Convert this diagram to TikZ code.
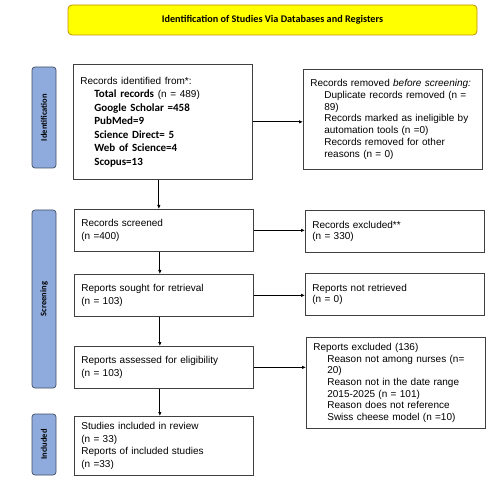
\documentclass[tikz,border=0pt]{standalone}
\usepackage{fontspec}
\setmainfont{Liberation Sans}
\newfontfamily\calibri{Carlito}
\usetikzlibrary{arrows.meta}
\definecolor{phasefill}{HTML}{8FAADC}
\definecolor{phaseline}{HTML}{3F4F66}
\definecolor{titlefill}{HTML}{FFFF00}
\definecolor{titleline}{HTML}{C09000}
\newcommand{\ind}{\hspace*{14pt}}
\newcommand{\bsrc}{\calibri\bfseries\fontsize{11}{13.5}\selectfont}

\begin{document}
\begin{tikzpicture}[
  x=1pt,y=-1pt,
  box/.style={draw=black!75,line width=0.7pt,anchor=north west,align=left,
    text width=165pt,inner xsep=7pt,inner ysep=0pt,font=\fontsize{10}{12.5}\selectfont},
  boxr/.style={box,font=\fontsize{10}{11.7}\selectfont},
  titlebox/.style={draw=titleline,fill=titlefill,line width=0.8pt,rounded corners=4pt,
    minimum width=409pt,minimum height=30pt,font=\calibri\bfseries\fontsize{10.2}{12}\selectfont},
  phasebox/.style={draw=phaseline,fill=phasefill,line width=0.7pt,rounded corners=3pt,
    rotate=90,minimum height=24pt,inner sep=0pt,font=\calibri\bfseries\fontsize{8.5}{9}\selectfont},
  flow/.style={draw=black,line width=0.8pt,-{Latex[length=4pt,width=3.5pt]}},
]
\useasboundingbox (0,0) rectangle (501,481);

% title and phases
\node[titlebox] (title) at (272.5,20) {Identification of Studies Via Databases and Registers};
\node[phasebox,minimum width=101pt] (phid) at (44,117.5) {Identification};
\node[phasebox,minimum width=178pt] (phscr) at (44,299) {Screening};
\node[phasebox,minimum width=61pt] (phinc) at (44,444.5) {Included};

% left column
\node[box,minimum height=115pt,font=\bsrc] (ident) at (73,64) {%
  {\normalfont\fontsize{10}{12}\selectfont Records identified from*:}\\
  \ind Total records {\normalfont\mdseries\fontsize{10}{12}\selectfont (n = 489)}\\
  \ind Google Scholar =458\\
  \ind PubMed=9\\
  \ind Science Direct= 5\\
  \ind Web of Science=4\\
  \ind Scopus=13};
\node[box,minimum height=42pt] (screened) at (74,209) {Records screened\\(n =400)};
\node[box,minimum height=42pt] (sought) at (74,274) {Reports sought for retrieval\\(n = 103)};
\node[box,minimum height=42pt] (assessed) at (74,346) {Reports assessed for eligibility\\(n = 103)};
\node[box,minimum height=59pt] (included) at (74,416) {Studies included in review\\(n = 33)\\Reports of included studies\\(n =33)};

% right column
\node[boxr,minimum height=100pt] (removed) at (303,69) {%
  Records removed \textit{before screening:}\\
  \ind Duplicate records removed (n =\\
  \ind 89)\\
  \ind Records marked as ineligible by\\
  \ind automation tools (n =0)\\
  \ind Records removed for other\\
  \ind reasons (n = 0)};
\node[boxr,minimum height=42pt] (excluded) at (305,210) {Records excluded**\\(n = 330)};
\node[boxr,minimum height=42pt] (notret) at (305,273) {Reports not retrieved\\(n = 0)};
\node[boxr,minimum height=91pt] (repexcl) at (306,337) {%
  Reports excluded (136)\\
  \ind Reason not among nurses (n=\\
  \ind 20)\\
  \ind Reason not in the date range\\
  \ind 2015-2025 (n = 101)\\
  \ind Reason does not reference\\
  \ind Swiss cheese model (n =10)};

% connectors
\draw[flow] ([xshift=-4pt]ident.south) -- ([xshift=-4pt]ident.south |- screened.north);
\draw[flow] ([xshift=-4pt]screened.south) -- ([xshift=-4pt]screened.south |- sought.north);
\draw[flow] ([xshift=-4pt]sought.south) -- ([xshift=-4pt]sought.south |- assessed.north);
\draw[flow] ([xshift=-4pt]assessed.south) -- ([xshift=-4pt]assessed.south |- included.north);
\draw[flow] (ident.east) -- (ident.east -| removed.west);
\draw[flow] (screened.east) -- (screened.east -| excluded.west);
\draw[flow] (sought.east) -- (sought.east -| notret.west);
\draw[flow] (assessed.east) -- (assessed.east -| repexcl.west);
\end{tikzpicture}
\end{document}
